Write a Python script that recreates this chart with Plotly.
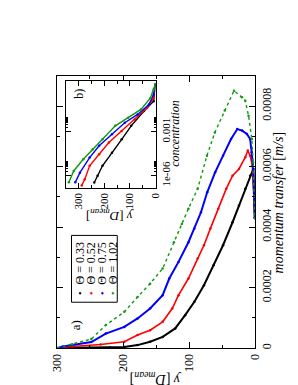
import plotly.graph_objects as go

W, H = 298, 385

# ---------------- main panel a) data ----------------
theta_labels = ["Θ = 0.33", "Θ = 0.52", "Θ = 0.75", "Θ = 1.02"]
colors = ["#000000", "#ff0000", "#0000ff", "#0f9a0f"]

y_black = [300, 250, 220, 198, 178, 159, 140, 121, 106, 92, 77.5, 63, 48.6, 34.2, 24.5, 14.9, 7.6, 2.9, 0.5]
m_black = [0, 0.000001, 0.000002, 0.000004, 0.00001, 0.000021, 0.000037, 0.000065, 0.000109, 0.000153,
           0.000208, 0.000274, 0.00034, 0.000416, 0.000471, 0.000527, 0.00057, 0.000592, 0.00043]

y_red = [300, 277, 234, 198, 178, 159, 140, 125.5, 116, 101, 87, 77.5, 67.8, 55.8, 43.7, 34.2, 24.5,
         14.9, 11.1, 7.6, 4.3, 0.5]
m_red = [0, 0.0000056, 0.000012, 0.000021, 0.000043, 0.000059, 0.000087, 0.000131, 0.000175, 0.00023,
         0.000296, 0.00034, 0.000395, 0.000461, 0.000527, 0.00057, 0.000592, 0.000631, 0.000653,
         0.000636, 0.000603, 0.00043]

y_blue = [300, 291, 248, 226, 198, 178, 159, 140, 130, 116, 101, 92, 82, 72.6, 60.6, 48.6, 36.5, 27,
          19.8, 12.5, 7.6, 5.3, 2.9, 0.5]
m_blue = [0, 0.0000056, 0.00002, 0.000048, 0.00007, 0.000098, 0.000131, 0.000175, 0.00023, 0.000285,
          0.00035, 0.000395, 0.000449, 0.000515, 0.000581, 0.000636, 0.000691, 0.000724, 0.000719,
          0.000708, 0.000691, 0.000647, 0.000593, 0.00043]

y_green = [300, 277, 248, 226, 198, 178, 159, 140, 123, 111, 101, 87, 73, 61, 46, 32, 20, 15, 10, 5, 3, 0.5]
m_green = [0, 0.000013, 0.00003, 0.000076, 0.00012, 0.000169, 0.000213, 0.000263, 0.00035, 0.00041,
           0.000461, 0.000527, 0.000636, 0.000713, 0.000785, 0.000851, 0.000829, 0.000818, 0.000768,
           0.000691, 0.000613, 0.00043]

main_x_ticks = [300, 200, 100, 0]
main_x_ticktext = ["300", "200", "100", "0"]
main_y_ticks = [0, 0.0002, 0.0004, 0.0006, 0.0008]
main_y_ticktext = ["0", "0.0002", "0.0004", "0.0006", "0.0008"]

# ---------------- inset b) data ----------------
iy_black = [1, 7.5, 45, 95, 132, 170, 207, 226, 239]
ic_black = [1.6, 0.12, 0.026, 0.0025, 0.0003, 3.7e-5, 4.7e-6, 9.8e-7, 3.4e-7]
iy_red = [1, 7.5, 33, 82, 132, 182, 220, 257, 276, 288]
ic_red = [1.6, 0.20, 0.043, 0.0069, 0.0011, 0.00018, 2.9e-5, 4.7e-6, 5.8e-7, 2.1e-7]
iy_blue = [1, 7.5, 26, 70, 120, 170, 220, 257, 295, 313]
ic_blue = [1.6, 0.35, 0.072, 0.015, 0.0041, 0.00066, 0.00011, 1.7e-5, 1.6e-6, 3.5e-7]
iy_green = [1, 7.5, 20, 57, 107, 157, 207, 245, 282, 319, 338]
ic_green = [1.8, 0.76, 0.20, 0.033, 0.0089, 0.0025, 0.0003, 6.3e-5, 1.3e-5, 2.1e-6, 3.5e-7]

inset_x_ticks = [300, 200, 100, 0]
inset_x_ticktext = ["300", "200", "100", "0"]
inset_y_ticks = [1e-6, 1e-3]
inset_y_ticktext = ["1e-06", "0.001"]


def px(x):
    return x / W


def py(y):
    return 1 - y / H


FONT = "Liberation Serif"

fig = go.Figure()

main_series = [(y_black, m_black), (y_red, m_red), (y_blue, m_blue), (y_green, m_green)]
widths = [2.0, 1.6, 2.0, 1.4]
for (xs, ys), c, w, name in zip(main_series, colors, widths, theta_labels):
    fig.add_trace(go.Scatter(x=xs, y=ys, mode="lines+markers", name=name,
                             line=dict(color=c, width=w, dash="solid" if c != "#0f9a0f" else "dot"),
                             marker=dict(color=c, size=2.5),
                             xaxis="x", yaxis="y", showlegend=False))

inset_series = [(iy_black, ic_black), (iy_red, ic_red), (iy_blue, ic_blue), (iy_green, ic_green)]
for (xs, ys), c in zip(inset_series, colors):
    fig.add_trace(go.Scatter(x=xs, y=ys, mode="lines+markers",
                             line=dict(color=c, width=1.4),
                             marker=dict(color=c, size=2.5),
                             xaxis="x2", yaxis="y2", showlegend=False))

axis_common = dict(showline=True, linecolor="black", linewidth=1, mirror="allticks",
                   ticks="inside", tickcolor="black", showgrid=False, zeroline=False,
                   tickfont=dict(family=FONT, size=12, color="black"))

inset_minor = [m * 10 ** e for e in (-6, -3) for m in range(2, 10)]

fig.update_layout(
    width=W, height=H,
    margin=dict(l=0, r=0, t=0, b=0),
    paper_bgcolor="white", plot_bgcolor="white",
    font=dict(family=FONT, color="black", size=12),
    showlegend=False,
    xaxis=dict(axis_common, domain=[px(44), px(252)], range=[300, 0], anchor="y",
               tickvals=main_x_ticks, ticktext=main_x_ticktext, tickangle=-90, ticklen=6,
               minor=dict(ticks="inside", dtick=50, ticklen=3, tickcolor="black")),
    yaxis=dict(axis_common, domain=[py(341), py(68)], range=[0, 0.0009], anchor="x", side="right",
               tickvals=main_y_ticks, ticktext=main_y_ticktext, tickangle=-90, ticklen=6,
               minor=dict(ticks="inside", dtick=0.0001, ticklen=3, tickcolor="black")),
    xaxis2=dict(axis_common, domain=[px(53.3), px(147.5)], range=[350, 0], anchor="y2",
                tickvals=inset_x_ticks, ticktext=inset_x_ticktext, tickangle=-90, ticklen=5,
                tickfont=dict(family=FONT, size=11, color="black"),
                minor=dict(ticks="inside", dtick=50, ticklen=3, tickcolor="black")),
    yaxis2=dict(axis_common, domain=[py(180), py(73.3)], type="log", range=[-6.81, 0.45],
                anchor="x2", side="right",
                tickvals=inset_y_ticks, ticktext=inset_y_ticktext, tickangle=-90, ticklen=5,
                tickfont=dict(family=FONT, size=11, color="black"),
                minor=dict(ticks="inside", tickvals=inset_minor, ticklen=2, tickcolor="black")),
)

annotations = [
    dict(text="<i>momentum transfer</i> [<i>m/s</i>]", x=px(277), y=py(195), textangle=-90,
         font=dict(size=14)),
    dict(text="<i>y</i> [<i>D</i><sub><i>mean</i></sub>]", x=px(148), y=py(372), textangle=180,
         font=dict(size=14)),
    dict(text="<i>concentration</i>", x=px(168), y=py(126), textangle=-90, font=dict(size=12)),
    dict(text="<i>y</i> [<i>D</i><sub><i>mean</i></sub>]", x=px(100), y=py(208), textangle=180,
         font=dict(size=13)),
    dict(text="a)", x=px(63), y=py(318), textangle=-90, font=dict(size=13)),
    dict(text="b)", x=px(67), y=py(86), textangle=-90, font=dict(size=12)),
]
legend_cols = [68.3, 80, 91.7, 102.7]
for cx, lab in zip(legend_cols, theta_labels):
    annotations.append(dict(text=lab, x=px(cx), y=py(256), textangle=-90, font=dict(size=12)))

for a in annotations:
    a.update(xref="paper", yref="paper", showarrow=False, xanchor="center", yanchor="middle")
    a["font"].update(family=FONT, color="black")
fig.update_layout(annotations=annotations)

shapes = [dict(type="rect", xref="paper", yref="paper", x0=px(59.3), x1=px(107.3),
               y0=py(295), y1=py(228), line=dict(color="black", width=1))]
for cx, c in zip(legend_cols, colors):
    shapes.append(dict(type="circle", xref="paper", yref="paper", x0=px(cx - 1), x1=px(cx + 1),
                       y0=py(287), y1=py(285), fillcolor=c, line=dict(color=c, width=0.5)))
fig.update_layout(shapes=shapes)

fig.write_html("out.html")
